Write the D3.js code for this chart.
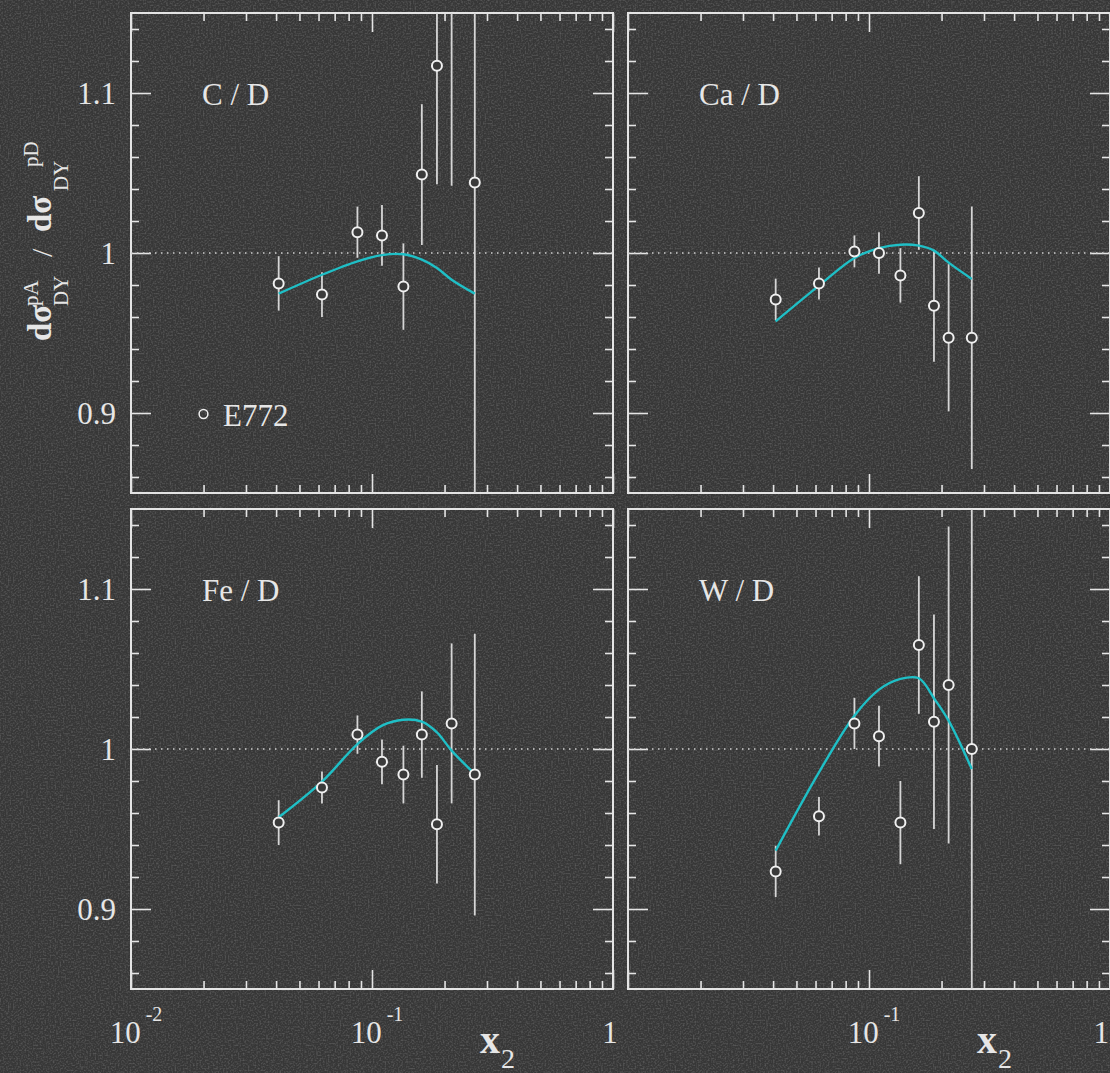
<!DOCTYPE html>
<html>
<head>
<meta charset="utf-8">
<script src="https://cdn.jsdelivr.net/npm/d3@7"></script>
<style>
  html, body { margin: 0; padding: 0; background: #383838; }
  svg { display: block; }
  text { font-family: "Liberation Serif", "DejaVu Serif", serif; fill: #e6e6e6; }
</style>
</head>
<body>
<script>
// x2 bins of the E772 points (same for every target)
var x2 = [0.041, 0.062, 0.087, 0.110, 0.135, 0.161, 0.186, 0.214, 0.267];

// ratio, error and fit curve for each target / D
var ratioC  = [0.981, 0.974, 1.013, 1.011, 0.979, 1.049, 1.117, 1.200, 1.044];
var errC    = [0.017, 0.014, 0.016, 0.019, 0.027, 0.044, 0.074, 0.158, 0.250];
var fitC    = [0.9746, 0.9864, 0.9948, 0.9987, 0.9992, 0.9958, 0.9906, 0.9833, 0.9746];

var ratioCa = [0.971, 0.981, 1.001, 1.000, 0.986, 1.025, 0.967, 0.947, 0.947];
var errCa   = [0.013, 0.010, 0.010, 0.013, 0.017, 0.023, 0.035, 0.046, 0.082];
var fitCa   = [0.9573, 0.9796, 0.9969, 1.0031, 1.0052, 1.0046, 1.0015, 0.9940, 0.9838];

var ratioFe = [0.954, 0.976, 1.009, 0.992, 0.984, 1.009, 0.953, 1.016, 0.984];
var errFe   = [0.014, 0.010, 0.012, 0.014, 0.018, 0.027, 0.037, 0.050, 0.088];
var fitFe   = [0.9573, 0.9796, 1.0031, 1.0146, 1.0183, 1.0171, 1.0104, 0.9990, 0.9844];

var ratioW  = [0.9235, 0.958, 1.016, 1.008, 0.954, 1.065, 1.017, 1.040, 1.000];
var errW    = [0.016, 0.012, 0.016, 0.019, 0.026, 0.043, 0.067, 0.099, 0.300];
var fitW    = [0.9365, 0.9854, 1.0208, 1.0371, 1.0438, 1.0442, 1.0317, 1.0177, 0.9875];

var panelNames = ["C / D", "Ca / D", "Fe / D", "W / D"];
var yTickLabels = ["0.9", "1", "1.1"];
var legendLabel = "E772";

var w = 1110, h = 1073;
var pw = 482, ph = 480;
var fg = "#e4e4e4";
var bg = "#3a3a3a";
var cyan = "#1fbfc6";

var svg = d3.select("body").append("svg")
  .attr("width", w)
  .attr("height", h);

// grainy background
var defs = svg.append("defs");
var grain = defs.append("filter").attr("id", "grain")
  .attr("x", 0).attr("y", 0).attr("width", "100%").attr("height", "100%");
grain.append("feTurbulence")
  .attr("type", "fractalNoise").attr("baseFrequency", 0.6)
  .attr("numOctaves", 1).attr("seed", 11);
grain.append("feColorMatrix").attr("type", "matrix")
  .attr("values", "0 0 0 0 1  0 0 0 0 1  0 0 0 0 1  2.2 0 0 0 -0.95");

svg.append("rect").attr("width", w).attr("height", h).attr("fill", "#373737");
svg.append("rect").attr("width", w).attr("height", h)
  .attr("filter", "url(#grain)").attr("opacity", 0.2);

var xScale = d3.scaleLog().domain([0.01, 1]).range([0, pw]);
var yScale = d3.scaleLinear().domain([0.85, 1.15]).range([ph, 0]);

var xMajor = [0.01, 0.1, 1];
var xMinor = xScale.ticks().filter(function (v) { return xMajor.indexOf(v) < 0; });
var yMajor = [0.9, 1.0, 1.1];
var yMinor = d3.range(0, 15).map(function (i) { return +(0.86 + i * 0.02).toFixed(2); })
  .filter(function (v) { return Math.abs(v - 0.9) > 1e-6 && Math.abs(v - 1) > 1e-6 && Math.abs(v - 1.1) > 1e-6; });

var panels = [
  { name: panelNames[0], x0: 131, y0: 13,  ratio: ratioC,  err: errC,  fit: fitC,  left: true,  bottom: false, legend: true },
  { name: panelNames[1], x0: 628, y0: 13,  ratio: ratioCa, err: errCa, fit: fitCa, left: false, bottom: false },
  { name: panelNames[2], x0: 131, y0: 509, ratio: ratioFe, err: errFe, fit: fitFe, left: true,  bottom: true },
  { name: panelNames[3], x0: 628, y0: 509, ratio: ratioW,  err: errW,  fit: fitW,  left: false, bottom: true }
];

function ticks(g, axisFn, scale, values, size, transform) {
  g.append("g")
    .attr("transform", transform)
    .call(axisFn(scale).tickValues(values).tickSize(size).tickFormat(""))
    .call(function (a) { a.select(".domain").remove(); })
    .selectAll("line")
    .attr("stroke", fg)
    .attr("stroke-width", 1.6);
}

var line = d3.line()
  .x(function (d) { return xScale(d[0]); })
  .y(function (d) { return yScale(d[1]); })
  .curve(d3.curveCatmullRom.alpha(0.5));

panels.forEach(function (p, k) {
  var g = svg.append("g").attr("transform", "translate(" + p.x0 + "," + p.y0 + ")");

  defs.append("clipPath").attr("id", "clip" + k)
    .append("rect").attr("width", pw).attr("height", ph);

  // frame ticks
  ticks(g, d3.axisBottom, xScale, xMajor, -19, "translate(0," + ph + ")");
  ticks(g, d3.axisBottom, xScale, xMinor, -8, "translate(0," + ph + ")");
  ticks(g, d3.axisTop, xScale, xMajor, -19, "translate(0,0)");
  ticks(g, d3.axisTop, xScale, xMinor, -8, "translate(0,0)");
  ticks(g, d3.axisLeft, yScale, yMajor, -20, "translate(0,0)");
  ticks(g, d3.axisLeft, yScale, yMinor, -8, "translate(0,0)");
  ticks(g, d3.axisRight, yScale, yMajor, -20, "translate(" + pw + ",0)");
  ticks(g, d3.axisRight, yScale, yMinor, -8, "translate(" + pw + ",0)");

  g.append("rect")
    .attr("width", pw).attr("height", ph)
    .attr("fill", "none").attr("stroke", fg).attr("stroke-width", 2);

  // reference line at 1
  g.append("line")
    .attr("x1", 0).attr("x2", pw)
    .attr("y1", yScale(1)).attr("y2", yScale(1))
    .attr("stroke", "#cfcfcf").attr("stroke-width", 1.5)
    .attr("stroke-dasharray", "1.5,4.5");

  var plot = g.append("g").attr("clip-path", "url(#clip" + k + ")");

  // error bars
  plot.selectAll(".bar")
    .data(x2)
    .enter()
    .append("line")
    .attr("class", "bar")
    .attr("x1", function (d) { return xScale(d); })
    .attr("x2", function (d) { return xScale(d); })
    .attr("y1", function (d, i) { return yScale(p.ratio[i] - p.err[i]); })
    .attr("y2", function (d, i) { return yScale(p.ratio[i] + p.err[i]); })
    .attr("stroke", "#d6d6d6")
    .attr("stroke-width", 1.8);

  // model curve
  plot.append("path")
    .datum(x2.map(function (d, i) { return [d, p.fit[i]]; }))
    .attr("d", line)
    .attr("fill", "none")
    .attr("stroke", cyan)
    .attr("stroke-width", 2.4);

  // data points
  plot.selectAll(".pt")
    .data(x2)
    .enter()
    .append("circle")
    .attr("class", "pt")
    .attr("cx", function (d) { return xScale(d); })
    .attr("cy", function (d, i) { return yScale(p.ratio[i]); })
    .attr("r", 5)
    .attr("fill", bg)
    .attr("stroke", "#f0f0f0")
    .attr("stroke-width", 2);

  // panel label
  g.append("text")
    .attr("x", 71).attr("y", 92)
    .attr("font-size", 31)
    .text(p.name);

  if (p.legend) {
    g.append("circle")
      .attr("cx", 72.5).attr("cy", 401)
      .attr("r", 4.4)
      .attr("fill", "none").attr("stroke", "#f0f0f0").attr("stroke-width", 1.5);
    g.append("text")
      .attr("x", 92).attr("y", 413)
      .attr("font-size", 31)
      .text(legendLabel);
  }

  if (p.left) {
    g.selectAll(".ylab")
      .data(yMajor)
      .enter()
      .append("text")
      .attr("class", "ylab")
      .attr("x", -15)
      .attr("y", function (d) { return yScale(d) + 11; })
      .attr("text-anchor", "end")
      .attr("font-size", 31)
      .text(function (d, i) { return yTickLabels[i]; });
  }

  if (p.bottom) {
    var labs = p.left ? xMajor : xMajor.slice(1);
    labs.forEach(function (v) {
      var e = Math.round(Math.log10(v));
      var t = g.append("text")
        .attr("y", ph + 54)
        .attr("font-size", 31);
      if (e === 0) {
        // keep the last "1" inside the page
        t.attr("x", p.left ? xScale(v) - 3 : w - p.x0 - 1)
          .attr("text-anchor", p.left ? "middle" : "end")
          .text("1");
      } else {
        t.attr("x", xScale(v) + 5).attr("text-anchor", "middle");
        t.append("tspan").text("10");
        t.append("tspan").attr("dx", 5).attr("dy", -22).attr("font-size", 20).text("-" + (-e));
      }
    });
    var xl = g.append("text")
      .attr("x", 349).attr("y", ph + 64);
    xl.append("tspan").attr("font-size", 40).attr("font-weight", "bold").text("x");
    xl.append("tspan").attr("dx", 1).attr("dy", 15).attr("font-size", 28).text("2");
  }
});

// y axis title: dσ_DY^pA / dσ_DY^pD
var yt = svg.append("g").attr("transform", "translate(51,240) rotate(-90)");
var ytParts = [
  { t: "d\u03c3", x: -101, y: 0, s: 33, b: true },
  { t: "DY", x: -66, y: 17, s: 21 },
  { t: "pA", x: -66, y: -13, s: 21 },
  { t: "/", x: -17, y: 1, s: 30 },
  { t: "d\u03c3", x: 8, y: 0, s: 33, b: true },
  { t: "DY", x: 49, y: 17, s: 21 },
  { t: "pD", x: 73, y: -13, s: 21 }
];
yt.selectAll("text")
  .data(ytParts)
  .enter()
  .append("text")
  .attr("x", function (d) { return d.x; })
  .attr("y", function (d) { return d.y; })
  .attr("font-size", function (d) { return d.s; })
  .attr("font-weight", function (d) { return d.b ? "bold" : "normal"; })
  .text(function (d) { return d.t; });
</script>
</body>
</html>
